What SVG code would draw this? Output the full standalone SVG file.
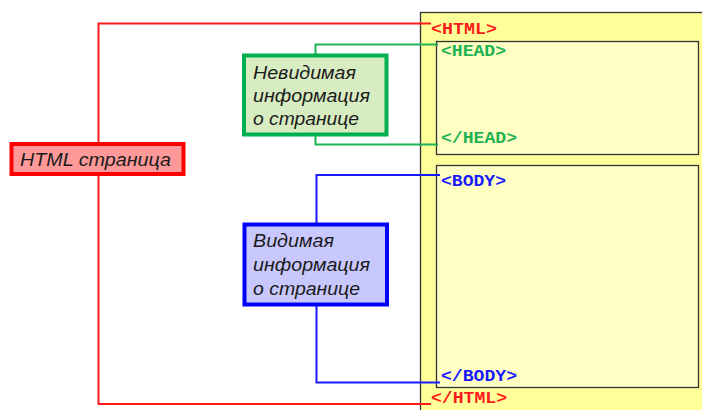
<svg xmlns="http://www.w3.org/2000/svg" width="702" height="410" viewBox="0 0 702 410">
<style>
.lbl{font-family:"Liberation Sans",Arial,sans-serif;font-style:italic;font-size:18.5px;fill:#1a1a1a}
.code{font-family:"Liberation Mono","Courier New",monospace;font-weight:bold;font-size:16px}
.conn{fill:none;stroke-width:2}
</style>
<rect width="702" height="410" fill="#ffffff"/>
<g id="page">
<rect x="420.5" y="12.5" width="300" height="420" fill="#ffff99" stroke="#333" stroke-width="1.3"/>
</g>
<g id="head">
<rect x="436.5" y="41.5" width="262" height="113" fill="#ffffc4" stroke="#333" stroke-width="1.3"/>
</g>
<g id="body">
<rect x="436.5" y="165.5" width="262" height="222" fill="#ffffc4" stroke="#333" stroke-width="1.3"/>
</g>
<g id="connectors">
<path class="conn" stroke="#ff1a1a" d="M431 23.5H98.5V404H431"/>
<path class="conn" stroke="#1db352" stroke-width="1.8" d="M438 44.5H315.5V144.5H438"/>
<path class="conn" stroke="#1a1aff" d="M440 175H316.5V382.5H440"/>
</g>
<g id="tags">
<text class="code" fill="#ff1a1a" x="431" y="34" textLength="66" lengthAdjust="spacingAndGlyphs">&lt;HTML&gt;</text>
<text class="code" fill="#1db352" x="441" y="56" textLength="65" lengthAdjust="spacingAndGlyphs">&lt;HEAD&gt;</text>
<text class="code" fill="#1db352" x="441" y="143" textLength="76" lengthAdjust="spacingAndGlyphs">&lt;/HEAD&gt;</text>
<text class="code" fill="#1a1aff" x="441" y="186" textLength="65" lengthAdjust="spacingAndGlyphs">&lt;BODY&gt;</text>
<text class="code" fill="#1a1aff" x="441" y="381" textLength="76" lengthAdjust="spacingAndGlyphs">&lt;/BODY&gt;</text>
<text class="code" fill="#ff1a1a" x="431" y="403" textLength="76" lengthAdjust="spacingAndGlyphs">&lt;/HTML&gt;</text>
</g>
<g id="html-page">
<rect x="11.5" y="144" width="172" height="30" fill="#ff9999" stroke="#ff0000" stroke-width="4"/>
<text class="lbl" x="20" y="166" textLength="151" lengthAdjust="spacingAndGlyphs">HTML страница</text>
</g>
<g id="invisible-info">
<rect x="244" y="55.5" width="142.5" height="79" fill="#d8ecc2" stroke="#00b050" stroke-width="4"/>
<text class="lbl" x="253" y="79" textLength="103" lengthAdjust="spacingAndGlyphs">Невидимая</text>
<text class="lbl" x="253" y="102" textLength="117" lengthAdjust="spacingAndGlyphs">информация</text>
<text class="lbl" x="253" y="125" textLength="106" lengthAdjust="spacingAndGlyphs">о странице</text>
</g>
<g id="visible-info">
<rect x="244.5" y="224.5" width="142.5" height="80" fill="#c8c8ff" stroke="#0000ff" stroke-width="4"/>
<text class="lbl" x="253" y="247" textLength="81" lengthAdjust="spacingAndGlyphs">Видимая</text>
<text class="lbl" x="253" y="271" textLength="117" lengthAdjust="spacingAndGlyphs">информация</text>
<text class="lbl" x="253" y="295" textLength="107" lengthAdjust="spacingAndGlyphs">о странице</text>
</g>
</svg>
